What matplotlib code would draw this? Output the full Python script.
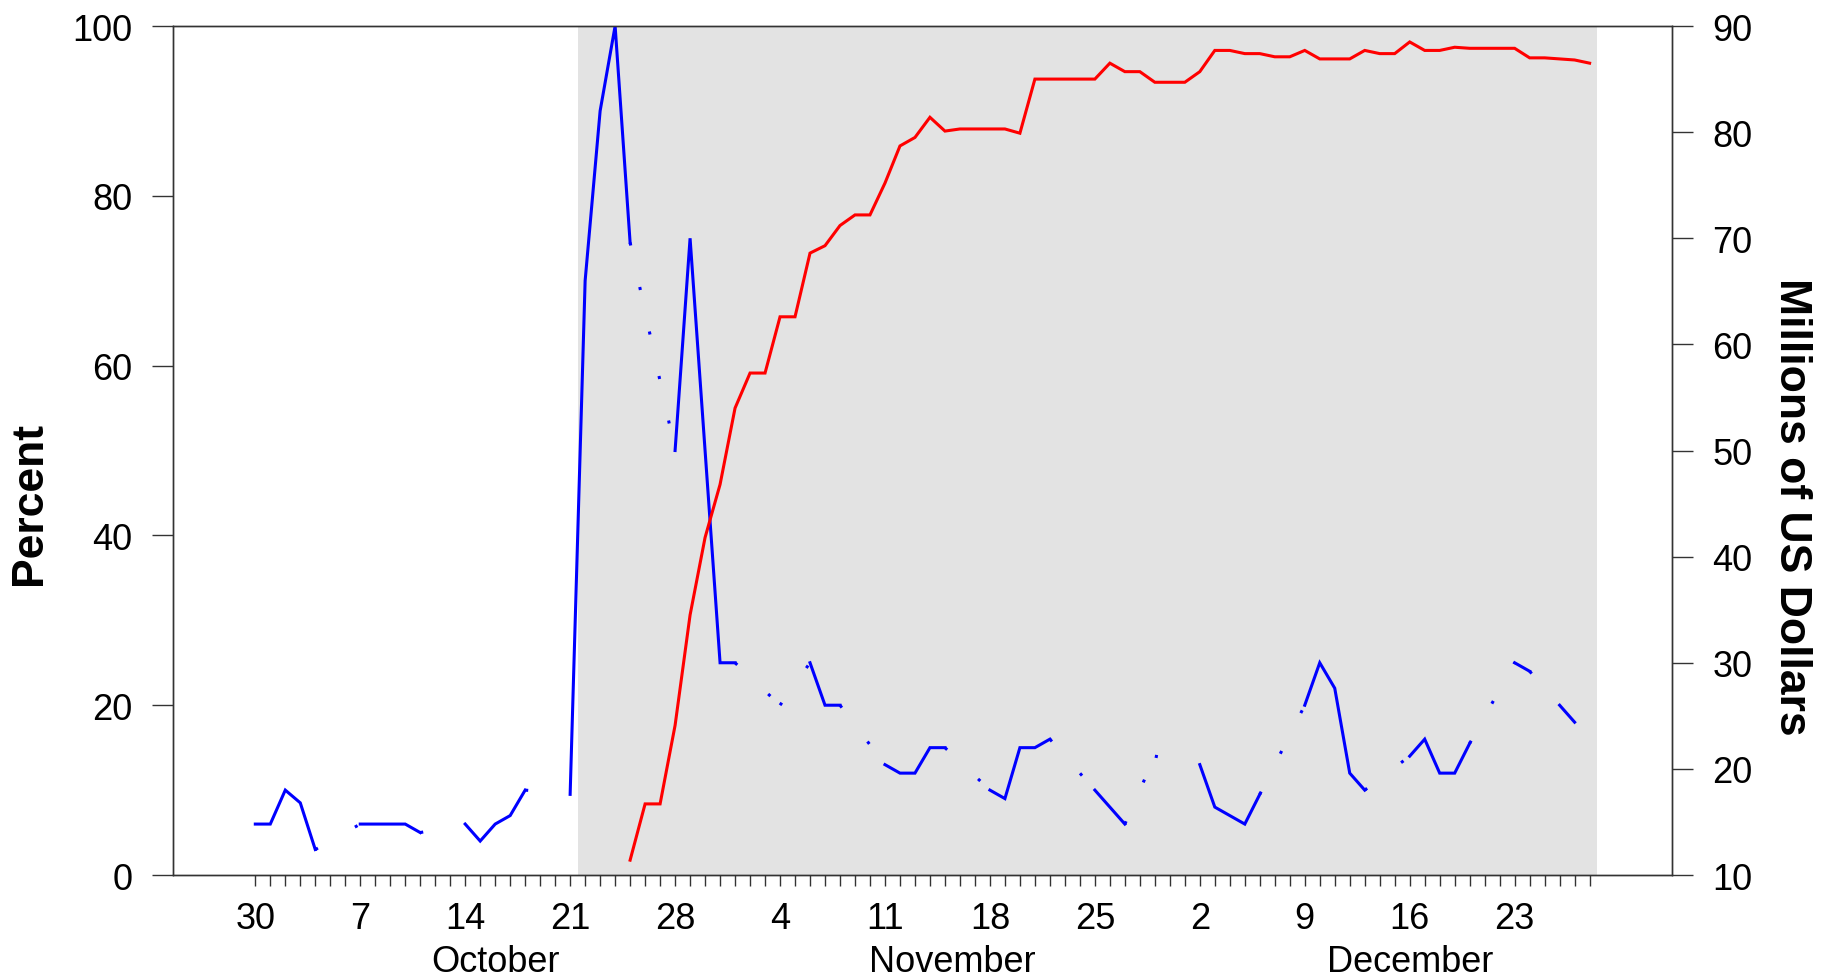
import numpy as np
import pandas as pd
import matplotlib
matplotlib.use('Agg')
import matplotlib.pyplot as plt
import matplotlib.dates as mdates
import matplotlib.transforms as mtransforms
from matplotlib.ticker import FixedLocator, FuncFormatter

plt.rcParams['font.family'] = ['Liberation Sans', 'DejaVu Sans']

# daily axis, Sep 30 .. Dec 28
dates = pd.date_range('2002-09-30', '2002-12-28', freq='D')

# blue series (Percent, left axis), None = no observation
blue_pct = [6, 6, 10, 8.5, 3, None, None,
            6, 6, 6, 6, 5, None, None,
            6, 4, 6, 7, 10, None, None,
            9.5, 70, 90, 100, 74.5, None, None,
            50, 75, 50, 25, 25, None, None,
            20, None, 25, 20, 20, None, None,
            13, 12, 12, 15, 15, None, None,
            10, 9, 15, 15, 16, None, None,
            10, 8, 6, None, 14, None, None,
            13, 8, 7, 6, 9.5, None, None,
            20, 25, 22, 12, 10, None, None,
            14, 16, 12, 12, 15.5, None, None,
            25, 24, None, 20, 18, None]

# red series (Millions of US Dollars, right axis)
red_musd = [None] * 25 + [
    11.4, 16.7, 16.7, 24.1, 34.5, 41.8, 46.8, 54.0, 57.3, 57.3,
    62.6, 62.6, 68.6, 69.3, 71.2, 72.2, 72.2, 75.2, 78.7, 79.5,
    81.4, 80.1, 80.3, 80.3, 80.3, 80.3, 79.9, 85.0, 85.0, 85.0,
    85.0, 85.0, 86.5, 85.7, 85.7, 84.7, 84.7, 84.7, 85.7, 87.7,
    87.7, 87.4, 87.4, 87.1, 87.1, 87.7, 86.9, 86.9, 86.9, 87.7,
    87.4, 87.4, 88.5, 87.7, 87.7, 88.0, 87.9, 87.9, 87.9, 87.9,
    87.0, 87.0, 86.9, 86.8, 86.5]

shade_start = pd.Timestamp('2002-10-21 12:00')
shade_end = pd.Timestamp('2002-12-28 12:00')

month_names = ['October', 'November', 'December']
month_mid = [pd.Timestamp('2002-10-16'), pd.Timestamp('2002-11-15 12:00'), pd.Timestamp('2002-12-16')]

x = mdates.date2num(dates)
blue = np.array([np.nan if v is None else v for v in blue_pct], dtype=float)
red = np.array([np.nan if v is None else v for v in red_musd], dtype=float)

fig = plt.figure(figsize=(18.31, 9.79), dpi=100)
ax = fig.add_axes([0.0944, 0.1052, 0.8188, 0.8672])
ax2 = ax.twinx()

spine_col = '#333333'
ax.axvspan(mdates.date2num(shade_start), mdates.date2num(shade_end), color='#e3e3e3', lw=0, zorder=0)

# solid blue where consecutive, dotted across gaps
ax.plot(x, blue, color='#0000ff', lw=2.2, solid_joinstyle='miter', zorder=3)
valid = np.where(~np.isnan(blue))[0]
for a, b in zip(valid[:-1], valid[1:]):
    if b - a > 1:
        ax.plot([x[a], x[b]], [blue[a], blue[b]], color='#0000ff', lw=2.2,
                linestyle=(0, (1, 13.9)), zorder=3)

ax2.plot(x, red, color='#ff0000', lw=2.2, solid_joinstyle='miter', zorder=3)

ax.set_xlim(x[0] - 5.5, x[0] + 94.5)
ax.set_ylim(0, 100)
ax2.set_ylim(10, 90)

ax.set_yticks(np.arange(0, 101, 20))
ax2.set_yticks(np.arange(10, 91, 10))

mondays = [d for d in dates if d.weekday() == 0]
ax.xaxis.set_major_locator(FixedLocator(mdates.date2num(mondays)))
ax.xaxis.set_major_formatter(FuncFormatter(lambda v, p: str(mdates.num2date(v).day)))
ax.xaxis.set_minor_locator(FixedLocator(x))

for a in (ax, ax2):
    for s in a.spines.values():
        s.set_color(spine_col)
        s.set_linewidth(1.0)
ax.tick_params(axis='y', direction='out', length=15, width=1.0, color=spine_col,
               labelsize=26, pad=14)
ax2.tick_params(axis='y', direction='out', length=15, width=1.0, color=spine_col,
                labelsize=26, pad=14)
ax.tick_params(axis='x', which='both', direction='out', length=8, width=1.0,
               color=spine_col, labelsize=26, pad=11)

trans = mtransforms.blended_transform_factory(ax.transData, ax.transAxes)
for name, mid in zip(month_names, month_mid):
    ax.text(mdates.date2num(mid), -0.113, name, transform=trans, ha='center',
            va='baseline', fontsize=26)

fig.text(29 / 1831, 0.486, 'Percent', rotation=90, ha='center', va='center',
         fontsize=32, fontweight='bold')
fig.text(1792 / 1831, 0.482, 'Millions of US Dollars', rotation=270, ha='center',
         va='center', fontsize=32, fontweight='bold')

fig.savefig('out.png', dpi=100)
